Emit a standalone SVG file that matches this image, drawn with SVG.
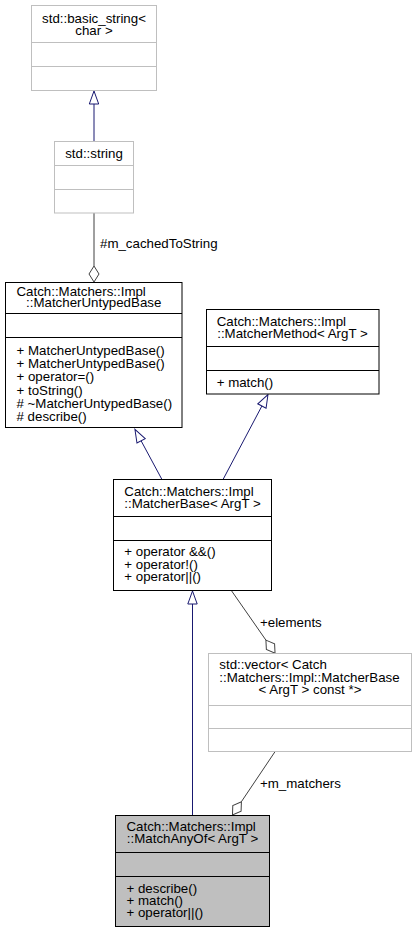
<svg xmlns="http://www.w3.org/2000/svg" width="416" height="933" viewBox="0 0 416 933">
<style>
text{font-family:"Liberation Sans",Arial,Helvetica,sans-serif;font-size:13.3px;fill:#000}
.m{text-anchor:middle}
.box{fill:#fff;stroke:#000;stroke-width:1}
.gbox{fill:#fff;stroke:#bfbfbf;stroke-width:1}
.cur{fill:#bfbfbf;stroke:#000;stroke-width:1}
.div{stroke:#000;stroke-width:1}
.gdiv{stroke:#bfbfbf;stroke-width:1}
.gen{fill:none;stroke:#191970;stroke-width:1}
.agg{fill:none;stroke:#404040;stroke-width:1}
</style>
<defs>
<marker id="tri" markerUnits="userSpaceOnUse" markerWidth="20" markerHeight="20" refX="0" refY="0" orient="auto" overflow="visible">
<path d="M0,-4.7 L13,0 L0,4.7 Z" fill="#fff" stroke="#191970" stroke-width="1"/>
</marker>
<marker id="dia" markerUnits="userSpaceOnUse" markerWidth="20" markerHeight="20" refX="0" refY="0" orient="auto" overflow="visible">
<path d="M0,0 L8,-5 L16,0 L8,5 Z" fill="#fff" stroke="#404040" stroke-width="1"/>
</marker>
</defs>
<rect width="416" height="933" fill="#fff"/>
<g id="connectors">
<path class="gen" d="M94,141 L94,104" marker-end="url(#tri)"/>
<path class="agg" d="M94,213 L94,266" marker-end="url(#dia)"/>
<text x="100" y="248">#m_cachedToString</text>
<path class="gen" d="M161.7,479 L141.1,440.8" marker-end="url(#tri)"/>
<path class="gen" d="M223.3,479 L261.9,406" marker-end="url(#tri)"/>
<path class="gen" d="M192.5,815 L192.5,604" marker-end="url(#tri)"/>
<path class="agg" d="M231.7,591 L265.9,640.1" marker-end="url(#dia)"/>
<text x="260" y="627">+elements</text>
<path class="agg" d="M275,751.7 L241.4,801.7" marker-end="url(#dia)"/>
<text x="260" y="788">+m_matchers</text>
</g>
<g id="basic_string">
<rect class="gbox" x="31.5" y="5.5" width="125" height="85"/>
<line class="gdiv" x1="31.5" y1="42.5" x2="156.5" y2="42.5"/>
<line class="gdiv" x1="31.5" y1="66.5" x2="156.5" y2="66.5"/>
<text class="m" x="94" y="22.5">std::basic_string&lt;</text>
<text class="m" x="94" y="34.5">char &gt;</text>
</g>
<g id="std_string">
<rect class="gbox" x="54.5" y="141.5" width="79" height="71.5"/>
<line class="gdiv" x1="54.5" y1="165.5" x2="133.5" y2="165.5"/>
<line class="gdiv" x1="54.5" y1="189.5" x2="133.5" y2="189.5"/>
<text class="m" x="94" y="158">std::string</text>
</g>
<g id="MatcherUntypedBase">
<rect class="box" x="5.5" y="282.5" width="176.5" height="145"/>
<line class="div" x1="5.5" y1="313.5" x2="182" y2="313.5"/>
<line class="div" x1="5.5" y1="337.5" x2="182" y2="337.5"/>
<text x="16.5" y="295.8">Catch::Matchers::Impl</text>
<text class="m" x="93.7" y="307">::MatcherUntypedBase</text>
<text x="16.5" y="355">+ MatcherUntypedBase()</text>
<text x="16.5" y="368">+ MatcherUntypedBase()</text>
<text x="16.5" y="381">+ operator=()</text>
<text x="16.5" y="394.5">+ toString()</text>
<text x="16.5" y="407.5"># ~MatcherUntypedBase()</text>
<text x="16.5" y="420.5"># describe()</text>
</g>
<g id="MatcherMethod">
<rect class="box" x="206.5" y="309.5" width="172.5" height="84.5"/>
<line class="div" x1="206.5" y1="346.5" x2="379" y2="346.5"/>
<line class="div" x1="206.5" y1="370.5" x2="379" y2="370.5"/>
<text x="216.7" y="326">Catch::Matchers::Impl</text>
<text class="m" x="292.5" y="338">::MatcherMethod&lt; ArgT &gt;</text>
<text x="216.7" y="387">+ match()</text>
</g>
<g id="MatcherBase">
<rect class="box" x="113.5" y="479.5" width="158" height="111"/>
<line class="div" x1="113.5" y1="516.5" x2="271.5" y2="516.5"/>
<line class="div" x1="113.5" y1="540.5" x2="271.5" y2="540.5"/>
<text x="124.3" y="496">Catch::Matchers::Impl</text>
<text class="m" x="192.5" y="507.5">::MatcherBase&lt; ArgT &gt;</text>
<text x="124.3" y="556">+ operator &amp;&amp;()</text>
<text x="124.3" y="568.5">+ operator!()</text>
<text x="124.3" y="581">+ operator||()</text>
</g>
<g id="vector">
<rect class="gbox" x="208.5" y="653.5" width="203" height="98"/>
<line class="gdiv" x1="208.5" y1="705.5" x2="411.5" y2="705.5"/>
<line class="gdiv" x1="208.5" y1="728.5" x2="411.5" y2="728.5"/>
<text x="219.3" y="669">std::vector&lt; Catch</text>
<text x="219.3" y="681.5">::Matchers::Impl::MatcherBase</text>
<text class="m" x="310" y="694">&lt; ArgT &gt; const *&gt;</text>
</g>
<g id="MatchAnyOf">
<rect class="cur" x="115.5" y="815.5" width="154" height="111"/>
<line class="div" x1="115.5" y1="852.5" x2="269.5" y2="852.5"/>
<line class="div" x1="115.5" y1="876.5" x2="269.5" y2="876.5"/>
<text x="126.5" y="830.5">Catch::Matchers::Impl</text>
<text class="m" x="192.5" y="842.5">::MatchAnyOf&lt; ArgT &gt;</text>
<text x="126.5" y="893">+ describe()</text>
<text x="126.5" y="905">+ match()</text>
<text x="126.5" y="917">+ operator||()</text>
</g>
</svg>
